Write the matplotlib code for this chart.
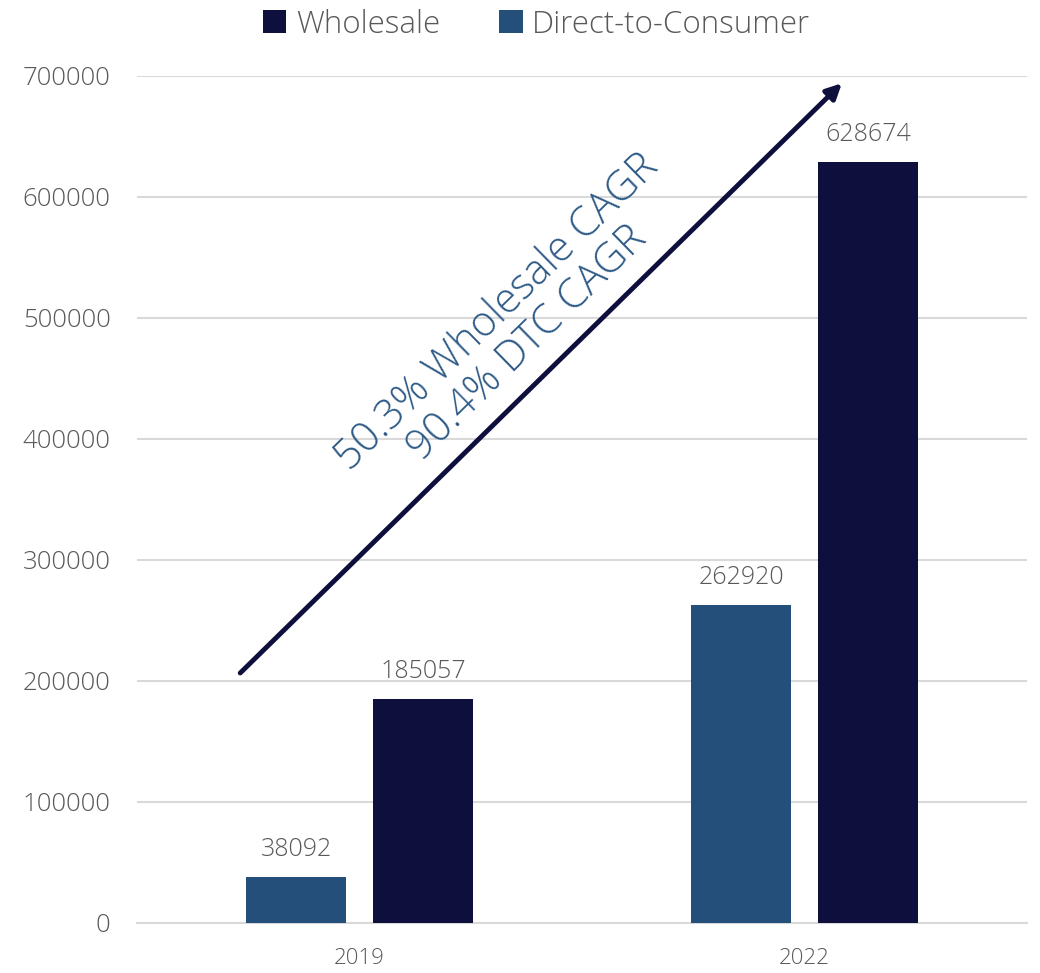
import matplotlib
matplotlib.use("Agg")
import matplotlib.pyplot as plt
import numpy as np

# Data
years = ["2019", "2022"]
wholesale = [185057, 628674]
dtc = [38092, 262920]
series_names = ["Wholesale", "Direct-to-Consumer"]
cagr_text = "50.3% Wholesale CAGR\n90.4% DTC CAGR"

plt.rcParams["font.family"] = ["Open Sans", "DejaVu Sans"]
plt.rcParams["font.weight"] = "light"

c_whole = "#0e0f3d"
c_dtc = "#234f7a"
c_text = "#595959"

fig = plt.figure(figsize=(10.4, 9.73), dpi=100)
ax = fig.add_axes([0.1317, 0.0514, 0.8558, 0.8705])

x = np.arange(len(years))
w = 0.225
off = 0.1425
b_dtc = ax.bar(x - off, dtc, w, color=c_dtc, label=series_names[1], zorder=3)
b_wh = ax.bar(x + off, wholesale, w, color=c_whole, label=series_names[0], zorder=3)

for bars in (b_dtc, b_wh):
    for r in bars:
        ax.annotate(str(int(r.get_height())),
                    (r.get_x() + r.get_width() / 2, r.get_height()),
                    xytext=(0, 11), textcoords="offset points",
                    ha="center", va="bottom", fontsize=18, color=c_text)

ax.set_xlim(-0.5, 1.5)
ax.set_ylim(0, 700000)
ax.set_yticks(np.arange(0, 700001, 100000))
ax.set_yticklabels([str(v) for v in range(0, 700001, 100000)])
ax.set_xticks(x)
ax.set_xticklabels(years)
ax.tick_params(axis="y", length=0, pad=19, labelsize=18.5, labelcolor=c_text)
ax.tick_params(axis="x", length=0, pad=18, labelsize=16, labelcolor=c_text)
ax.grid(axis="y", color="#d9d9d9", linewidth=1.5, zorder=0)
for s in ax.spines.values():
    s.set_visible(False)
ax.spines["bottom"].set_visible(True)
ax.spines["bottom"].set_color("#d9d9d9")
ax.spines["bottom"].set_linewidth(1.5)

# growth arrow
ax.annotate("", xy=(1.084, 694000), xytext=(-0.268, 206600),
            arrowprops=dict(arrowstyle="-|>,head_length=0.9,head_width=0.45",
                            color=c_whole, lw=3.5, shrinkA=0, shrinkB=0),
            annotation_clip=False, zorder=4)
ax.text(0.343, 492000, cagr_text, rotation=44.4, rotation_mode="anchor",
        ha="center", va="center", fontsize=30, color="#2e5a87",
        linespacing=1.05, zorder=5)

handles = [b_wh, b_dtc]
fig.legend(handles, series_names, loc="upper center", bbox_to_anchor=(0.516, 1.02),
           ncol=2, frameon=False, fontsize=22.5, handlelength=0.75, handleheight=0.75,
           handletextpad=0.3, columnspacing=1.9, labelcolor=c_text)

fig.savefig("out.png", dpi=100)
